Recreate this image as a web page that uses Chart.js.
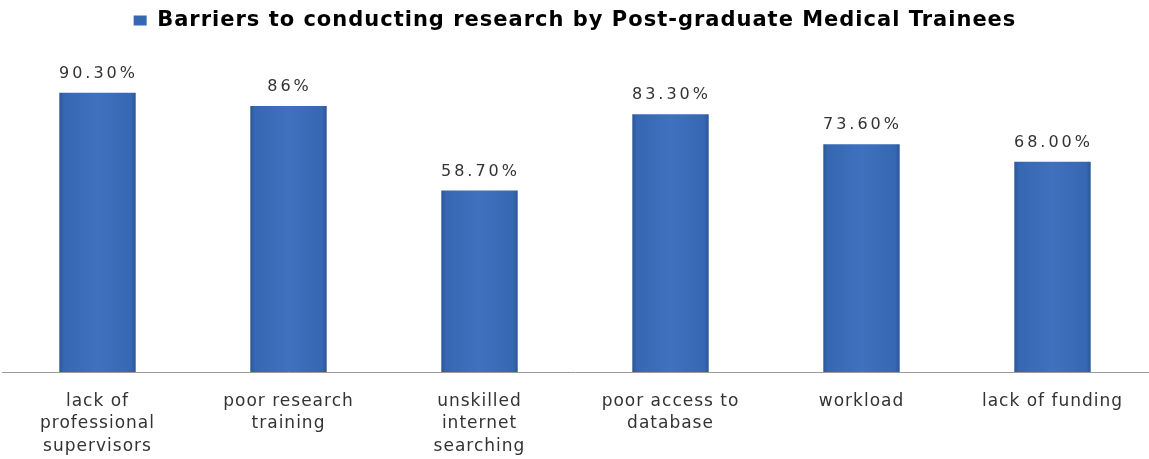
<!DOCTYPE html>
<html>
<head>
<meta charset="utf-8">
<script src="https://cdn.jsdelivr.net/npm/chart.js@4.4.1/dist/chart.umd.min.js"></script>
<style>
html,body{margin:0;padding:0;background:#ffffff;}
#wrap{width:1149px;height:459px;position:relative;}
</style>
</head>
<body>
<div id="wrap"><canvas id="c"></canvas></div>
<script>
const categories = [
  ["lack of", "professional", "supervisors"],
  ["poor research", "training"],
  ["unskilled", "internet", "searching"],
  ["poor access to", "database"],
  ["workload"],
  ["lack of funding"]
];
const values = [90.3, 86, 58.7, 83.3, 73.6, 68.0];
const valueLabels = ["90.30%", "86%", "58.70%", "83.30%", "73.60%", "68.00%"];
const seriesName = "Barriers to conducting research by Post-graduate Medical Trainees";

function barFill(ctx) {
  const chart = ctx.chart;
  const xs = chart.scales && chart.scales.x;
  if (!xs || ctx.dataIndex === undefined || !isFinite(xs.getPixelForValue(ctx.dataIndex))) return '#3b6dbb';
  const cx = xs.getPixelForValue(ctx.dataIndex);
  const w = (xs.width / categories.length) * 0.4;
  const g = chart.ctx.createLinearGradient(cx - w / 2, 0, cx + w / 2, 0);
  g.addColorStop(0, '#2b5797');
  g.addColorStop(0.06, '#3667b2');
  g.addColorStop(0.5, '#3e71bf');
  g.addColorStop(0.94, '#3667b2');
  g.addColorStop(1, '#2b5797');
  return g;
}

const spacingPlugin = {
  id: 'spacing',
  beforeUpdate(chart) { chart.ctx.letterSpacing = '1px'; },
  beforeLayout(chart) { chart.ctx.letterSpacing = '1px'; },
  beforeDraw(chart) { chart.ctx.letterSpacing = '1px'; }
};

const valueLabelPlugin = {
  id: 'valueLabels',
  afterDatasetsDraw(chart) {
    const ctx = chart.ctx;
    const meta = chart.getDatasetMeta(0);
    ctx.save();
    ctx.letterSpacing = '3px';
    ctx.font = '16px "DejaVu Sans"';
    ctx.fillStyle = '#333333';
    ctx.textAlign = 'center';
    ctx.textBaseline = 'bottom';
    meta.data.forEach((bar, i) => {
      ctx.fillText(valueLabels[i], bar.x + 1, bar.y - 11);
    });
    ctx.restore();
  }
};

new Chart(document.getElementById('c'), {
  type: 'bar',
  data: {
    labels: categories,
    datasets: [{
      label: seriesName,
      data: values,
      backgroundColor: barFill,
      borderWidth: 0,
      categoryPercentage: 0.4,
      barPercentage: 1.0
    }]
  },
  options: {
    responsive: true,
    maintainAspectRatio: false,
    animation: false,
    layout: { padding: { left: 2, right: 1, top: 2, bottom: 0 } },
    plugins: {
      legend: {
        display: true,
        position: 'top',
        labels: {
          boxWidth: 13,
          boxHeight: 10,
          color: '#1a1a1a',
          font: { family: '"DejaVu Sans"', size: 21, weight: 'bold' },
          padding: 8,
          generateLabels(chart) {
            return [{ text: seriesName, fillStyle: '#3567b2', strokeStyle: '#3567b2', lineWidth: 0, datasetIndex: 0 }];
          }
        }
      },
      tooltip: { enabled: false }
    },
    scales: {
      x: {
        afterFit(scale) { scale.height = 87; },
        grid: { display: false, drawTicks: false },
        border: { display: true, color: '#a09a96', width: 1 },
        ticks: {
          color: '#333333',
          font: { family: '"DejaVu Sans"', size: 17, lineHeight: 1.32 },
          padding: 18,
          maxRotation: 0,
          autoSkip: false
        }
      },
      y: {
        display: false,
        min: 0,
        max: 107
      }
    }
  },
  plugins: [spacingPlugin, valueLabelPlugin]
});
</script>
</body>
</html>
